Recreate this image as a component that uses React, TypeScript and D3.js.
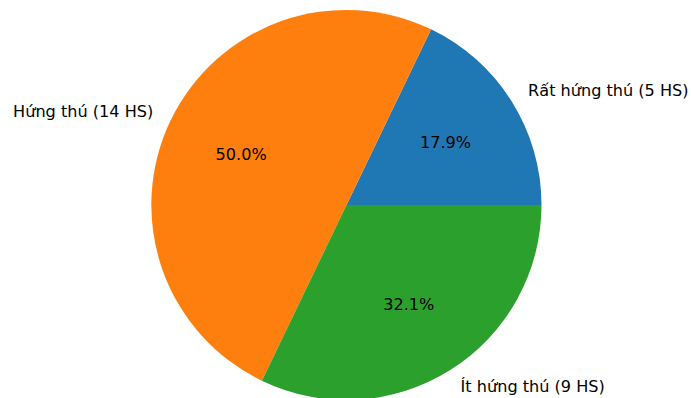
import React from "react";
import * as d3 from "d3";

const labels = ["Rất hứng thú (5 HS)", "Hứng thú (14 HS)", "Ít hứng thú (9 HS)"];
const counts = [5, 14, 9];
const colors = ["#1f77b4", "#ff7f0e", "#2ca02c"];

const W = 691;
const H = 398;
const CX = 346.5;
const CY = 205;
const R = 195;
const FONT = 16.1;

export default function App() {
  const total = d3.sum(counts);
  const pie = d3
    .pie<number>()
    .sort(null)
    .value((d) => d)
    .startAngle(Math.PI / 2)
    .endAngle(Math.PI / 2 - 2 * Math.PI);
  const arcs = pie(counts);
  const arc = d3.arc<d3.PieArcDatum<number>>().innerRadius(0).outerRadius(R);
  const pctArc = d3.arc<d3.PieArcDatum<number>>().innerRadius(R * 0.6).outerRadius(R * 0.6);
  const lblArc = d3.arc<d3.PieArcDatum<number>>().innerRadius(R * 1.1).outerRadius(R * 1.1);

  return (
    <svg
      width={W}
      height={H}
      style={{ position: "absolute", left: 0, top: 0, background: "#fff" }}
      fontFamily="DejaVu Sans, sans-serif"
      fontSize={FONT}
    >
      <g transform={`translate(${CX},${CY})`}>
        {arcs.map((a, i) => (
          <path key={"s" + i} d={arc(a) || ""} fill={colors[i]} />
        ))}
        {arcs.map((a, i) => {
          const [x, y] = pctArc.centroid(a);
          return (
            <text key={"p" + i} x={x} y={y} textAnchor="middle" dominantBaseline="central" fill="#000">
              {((counts[i] / total) * 100).toFixed(1)}%
            </text>
          );
        })}
        {arcs.map((a, i) => {
          const [x, y] = lblArc.centroid(a);
          return (
            <text
              key={"l" + i}
              x={x}
              y={y}
              textAnchor={x > 0 ? "start" : "end"}
              dominantBaseline="central"
              fill="#000"
            >
              {labels[i]}
            </text>
          );
        })}
      </g>
    </svg>
  );
}
